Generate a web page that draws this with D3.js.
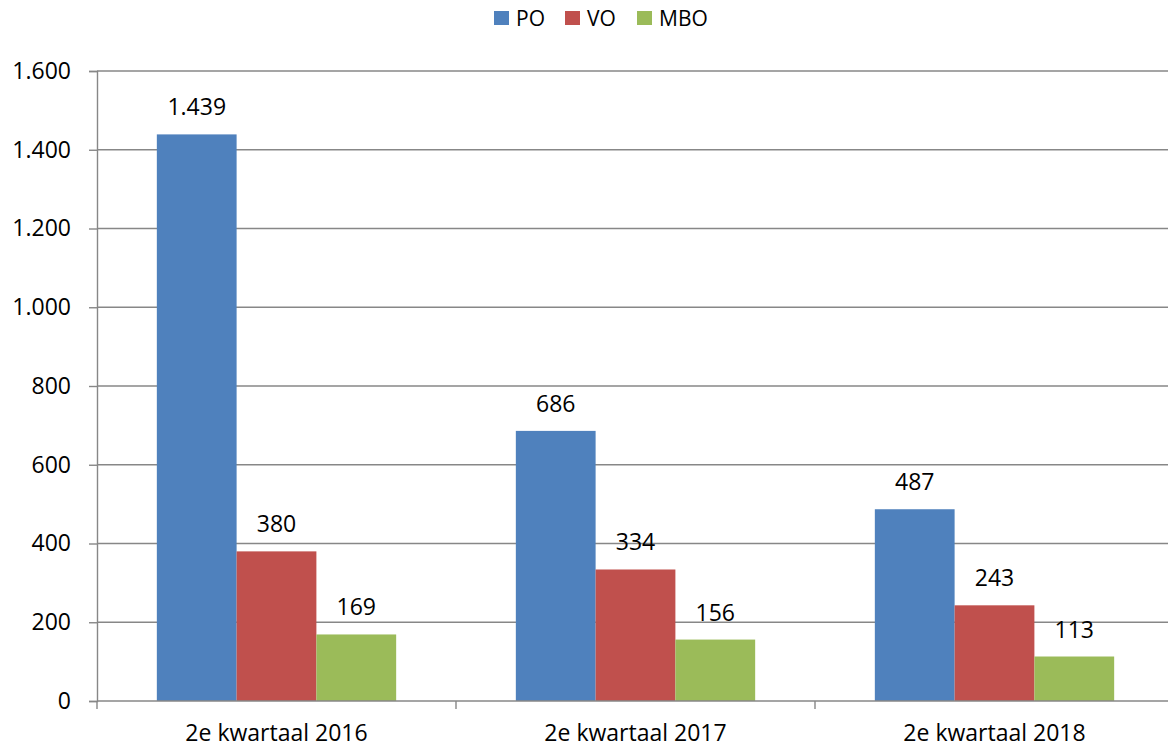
<!DOCTYPE html>
<html>
<head>
<meta charset="utf-8">
<script src="https://cdn.jsdelivr.net/npm/d3@7"></script>
<style>
  html, body { margin: 0; padding: 0; background: #fff; }
  svg { display: block; font-family: "Open Sans", Lato, sans-serif; }
</style>
</head>
<body>
<svg id="chart" width="1168" height="747"></svg>
<script>
// Categories, series and values
const categories = ["2e kwartaal 2016", "2e kwartaal 2017", "2e kwartaal 2018"];
const seriesNames = ["PO", "VO", "MBO"];
const seriesColors = ["#4F81BD", "#C0504D", "#9BBB59"];
const poValues = [1439, 686, 487];
const voValues = [380, 334, 243];
const mboValues = [169, 156, 113];
const yTicks = [0, 200, 400, 600, 800, 1000, 1200, 1400, 1600];

const valuesBySeries = [poValues, voValues, mboValues];

const nl = d3.formatLocale({ decimal: ",", thousands: ".", grouping: [3], currency: ["€ ", ""] });
const fmt = nl.format(",d");

const svg = d3.select("#chart");
const plotLeft = 97, bandRight = 1174, plotTop = 71, plotBottom = 701;
const fontSize = 23;
const legendFontSize = 21;

const x0 = d3.scaleBand().domain(categories).range([plotLeft, bandRight]).padding(0);
const gap = x0.bandwidth() / 6;
const x1 = d3.scaleBand().domain(seriesNames).range([gap, x0.bandwidth() - gap]).padding(0);
const y = d3.scaleLinear().domain([0, 1600]).range([plotBottom, plotTop]);

const gridColor = "#878787";

// Horizontal gridlines
svg.append("g")
  .selectAll("line")
  .data(yTicks.filter(d => d > 0))
  .join("line")
  .attr("x1", plotLeft).attr("x2", 1168)
  .attr("y1", d => y(d)).attr("y2", d => y(d))
  .attr("stroke", gridColor).attr("stroke-width", 1.4);

// Y axis
const yAxis = svg.append("g")
  .attr("transform", `translate(${plotLeft},0)`)
  .call(d3.axisLeft(y).tickValues(yTicks).tickFormat(fmt).tickSize(8).tickPadding(18));
yAxis.select(".domain").attr("stroke", gridColor).attr("stroke-width", 1.4);
yAxis.selectAll(".tick line").attr("stroke", gridColor).attr("stroke-width", 1.4);
yAxis.selectAll(".tick text")
  .attr("font-size", fontSize).attr("fill", "#000")
  .attr("font-family", "'Open Sans', Lato, sans-serif");

// Bars
const groups = svg.append("g")
  .selectAll("g")
  .data(categories)
  .join("g")
  .attr("transform", d => `translate(${x0(d)},0)`);

groups.selectAll("rect")
  .data((c, ci) => seriesNames.map((s, si) => ({ s, si, v: valuesBySeries[si][ci] })))
  .join("rect")
  .attr("x", d => x1(d.s))
  .attr("width", x1.bandwidth())
  .attr("y", d => y(d.v))
  .attr("height", d => y(0) - y(d.v))
  .attr("fill", d => seriesColors[d.si]);

// Value labels
groups.selectAll("text.val")
  .data((c, ci) => seriesNames.map((s, si) => ({ s, si, v: valuesBySeries[si][ci] })))
  .join("text")
  .attr("class", "val")
  .attr("x", d => x1(d.s) + x1.bandwidth() / 2)
  .attr("y", d => y(d.v) - 19)
  .attr("text-anchor", "middle")
  .attr("font-size", fontSize)
  .attr("fill", "#000")
  .text(d => fmt(d.v));

// X axis
const xAxis = svg.append("g")
  .attr("transform", `translate(0,${plotBottom})`);
xAxis.append("line")
  .attr("x1", plotLeft).attr("x2", 1168)
  .attr("stroke", gridColor).attr("stroke-width", 1.4);
xAxis.selectAll("line.tk")
  .data(categories.concat(["__end"]))
  .join("line")
  .attr("class", "tk")
  .attr("x1", (d, i) => i < categories.length ? x0(d) : bandRight)
  .attr("x2", (d, i) => i < categories.length ? x0(d) : bandRight)
  .attr("y1", 0).attr("y2", 8)
  .attr("stroke", gridColor).attr("stroke-width", 1.4);
xAxis.selectAll("text")
  .data(categories)
  .join("text")
  .attr("x", d => x0(d) + x0.bandwidth() / 2)
  .attr("y", 40)
  .attr("text-anchor", "middle")
  .attr("font-size", fontSize)
  .attr("fill", "#000")
  .text(d => d);

// Legend
const legendX = [494, 565, 637];
const legend = svg.append("g")
  .selectAll("g")
  .data(seriesNames)
  .join("g")
  .attr("transform", (d, i) => `translate(${legendX[i]},0)`);
legend.append("rect")
  .attr("x", 0).attr("y", 11).attr("width", 15).attr("height", 14)
  .attr("fill", (d, i) => seriesColors[i]);
legend.append("text")
  .attr("x", 22).attr("y", 25.5)
  .attr("font-size", legendFontSize).attr("fill", "#000")
  .text(d => d);
</script>
</body>
</html>
